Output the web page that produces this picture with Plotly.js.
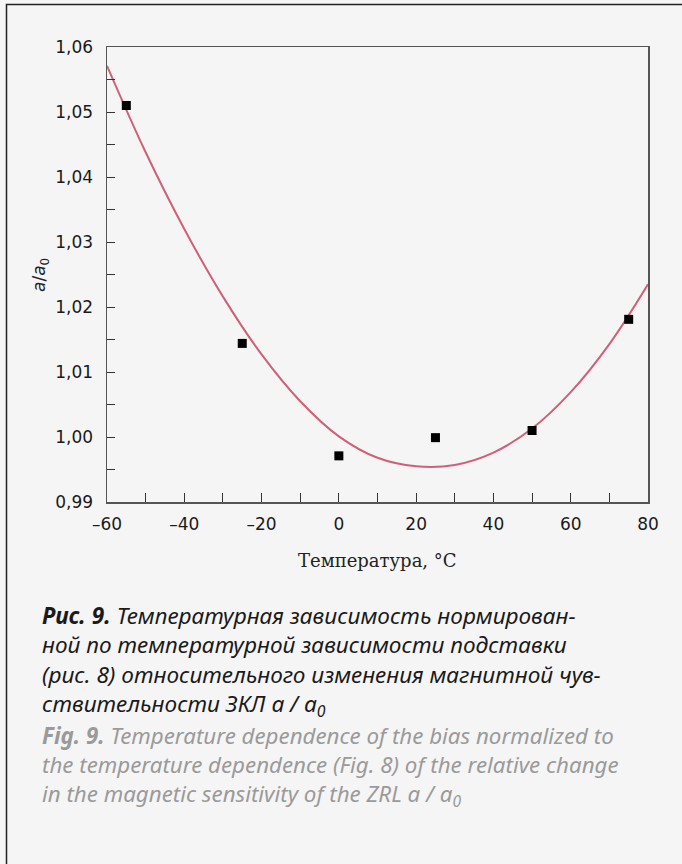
<!DOCTYPE html>
<html>
<head>
<meta charset="utf-8">
<script src="https://cdn.plot.ly/plotly-3.0.1.min.js"></script>
<style>html,body{margin:0;padding:0;background:#f5f5f5;}</style>
</head>
<body>
<div id="chart" style="width:682px;height:864px;"></div>
<script>
// Measured points
const tempPoints = [-55, -25, 0, 25, 50, 75];
const ratioPoints = [1.0510, 1.0144, 0.9971, 0.9999, 1.0010, 1.0181];

// Fitted curve
const tempCurve = [-60, -50, -40, -30, -20, -10, 0, 10, 20, 30, 40, 50, 60, 70, 80];
const ratioCurve = [1.0571, 1.0438, 1.0320, 1.0216, 1.0127, 1.0055, 1.0001, 0.9968, 0.9955, 0.9957, 0.9976, 1.0013, 1.0069, 1.0143, 1.0235];

// Tick labels
const xTickVals = [-60, -40, -20, 0, 20, 40, 60, 80];
const xTickText = ['–60', '–40', '–20', '0', '20', '40', '60', '80'];

const xTitle = 'Температура, °C';
const yTitle = '<i>a</i>/<i>a</i><sub>0</sub>';

const captionRu = [
  '<b>Рис. 9.</b> Температурная зависимость нормирован-',
  'ной по температурной зависимости подставки',
  '(рис. 8) относительного изменения магнитной чув-',
  'ствительности ЗКЛ a / a<sub>0</sub>'
];
const captionEn = [
  '<b>Fig. 9.</b> Temperature dependence of the bias normalized to',
  'the temperature dependence (Fig. 8) of the relative change',
  'in the magnetic sensitivity of the ZRL a / a<sub>0</sub>'
];

const L = 107, R = 648, T = 47, B = 502, W = 682, H = 864;
const px = x => (x - L) / (R - L);
const py = y => (B - y) / (B - T);

const annotations = [];
annotations.push({xref:'paper', yref:'paper', x:px(377), y:py(560), xanchor:'center', yanchor:'middle',
  text:xTitle, showarrow:false, font:{family:'DejaVu Serif', size:18, color:'#222'}});
annotations.push({xref:'paper', yref:'paper', x:px(40), y:py(275), xanchor:'center', yanchor:'middle',
  text:yTitle, textangle:-90, showarrow:false, font:{family:'DejaVu Sans', size:17, color:'#222'}});

const capFont = 'Noto Sans';
annotations.push({xref:'paper', yref:'paper', x:px(40), y:py(598), xanchor:'left', yanchor:'top', align:'left',
  text:'<i>' + captionRu.join('<br>') + '</i>', showarrow:false,
  font:{family:capFont, size:22.6, color:'#1a1a1a'}});
annotations.push({xref:'paper', yref:'paper', x:px(40), y:py(718), xanchor:'left', yanchor:'top', align:'left',
  text:'<i>' + captionEn.join('<br>') + '</i>', showarrow:false,
  font:{family:capFont, size:22.3, color:'#9a9a9a'}});

const data = [
  {x: tempCurve, y: ratioCurve, type:'scatter', mode:'lines',
   line:{color:'rgb(206,96,122)', width:2, shape:'spline', smoothing:1}, hoverinfo:'skip'},
  {x: tempPoints, y: ratioPoints, type:'scatter', mode:'markers',
   marker:{symbol:'square', size:9, color:'#000'}}
];

const layout = {
  width: W, height: H,
  margin: {l: L, r: W - R, t: T, b: H - B, pad: 0},
  paper_bgcolor: '#f5f5f5', plot_bgcolor: '#f5f5f5',
  showlegend: false,
  separators: ', ',
  xaxis: {
    range: [-60, 80], tickvals: xTickVals, ticktext: xTickText,
    ticks: 'inside', ticklen: 9, tickwidth: 1, tickcolor: '#333',
    minor: {dtick: 10, ticks: 'inside', ticklen: 9, tickwidth: 1, tickcolor: '#333', showgrid: false},
    showline: true, linecolor: '#555', linewidth: 1.5, mirror: true,
    showgrid: false, zeroline: false, ticklabelstandoff: 6,
    tickfont: {family: 'DejaVu Sans', size: 17, color: '#1a1a1a'}
  },
  yaxis: {
    range: [0.99, 1.06], dtick: 0.01, tick0: 0.99, tickformat: '.2f',
    ticks: 'inside', ticklen: 8, tickwidth: 1, tickcolor: '#333',
    minor: {dtick: 0.005, ticks: 'inside', ticklen: 8, tickwidth: 1, tickcolor: '#333', showgrid: false},
    showline: true, linecolor: '#555', linewidth: 1.5, mirror: true,
    showgrid: false, zeroline: false, ticklabelstandoff: 9,
    tickfont: {family: 'DejaVu Sans', size: 17, color: '#1a1a1a'}
  },
  shapes: [
    {type:'rect', xref:'paper', yref:'paper', x0:px(6.5), x1:px(720), y0:py(900), y1:py(4.5),
     line:{color:'#222', width:1.5}, fillcolor:'rgba(0,0,0,0)', layer:'below'}
  ],
  annotations: annotations
};

Plotly.newPlot('chart', data, layout, {displayModeBar: false, staticPlot: true});
</script>
</body>
</html>
